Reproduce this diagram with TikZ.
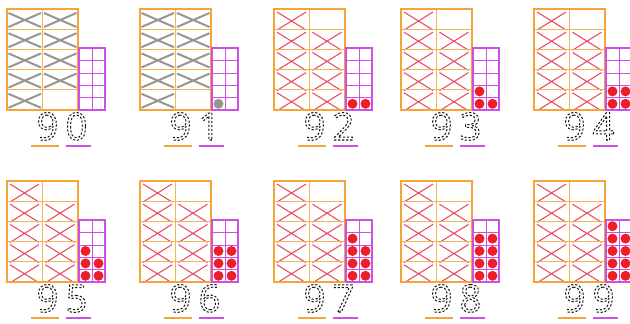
\documentclass[tikz,border=0pt]{standalone}
\usepackage{fontspec}
\newfontfamily\digitfont{Open Sans}
\definecolor{orng}{RGB}{245,165,55}
\definecolor{mag}{RGB}{205,80,230}
\definecolor{xred}{RGB}{232,80,100}
\definecolor{xgrey}{RGB}{150,150,150}
\definecolor{dred}{RGB}{238,30,40}
\definecolor{dgrey}{RGB}{150,150,150}
\definecolor{ink}{RGB}{20,20,20}
\newcommand\strokeon{\special{pdf:literal direct 1 Tr 1 w [2.2 1.8] 0 d}}
\newcommand\strokeoff{\special{pdf:literal direct 0 Tr [] 0 d}}
\tikzset{
  tensbox/.style={draw=orng, line width=1.8pt},
  tensgrid/.style={draw=orng!85, line width=0.7pt},
  onesbox/.style={draw=mag, line width=1.4pt},
  onesgrid/.style={draw=mag, line width=0.6pt},
  crossred/.style={draw=xred, line width=1.1pt, /utils/exec={\def\cxa{3}\def\cxb{32}\def\cya{3}\def\cyb{21}}},
  crossgrey/.style={draw=xgrey, line width=2pt, /utils/exec={\def\cxa{1.5}\def\cxb{34}\def\cya{4}\def\cyb{18}}},
  dotred/.style={fill=dred},
  dotgrey/.style={fill=dgrey},
  tracedigit/.style={font=\digitfont\fontsize{38}{38}\selectfont, inner sep=0pt, anchor=base, text=ink},
  ulorange/.style={draw=orng, line width=2pt},
  ulmag/.style={draw=mag, line width=2pt},
}
% #1 x, #2 y, #3 cross style, #4 empty row, #5 units digit, #6 dots, #7 dot style
\newcommand\placevalue[7]{%
  \begin{scope}[shift={(#1,#2)}]
    \foreach \r in {0,...,4}{
      \foreach \c in {0,1}{
        \pgfmathtruncatemacro\skipcell{(\c==1)&&(\r==#4)}
        \ifnum\skipcell=0
          \draw[#3] ({\c*35.5+\cxa},{\r*20.2+\cya}) -- ({\c*35.5+\cxb},{\r*20.2+\cyb})
                    ({\c*35.5+\cxa},{\r*20.2+\cyb}) -- ({\c*35.5+\cxb},{\r*20.2+\cya});
        \fi
      }
    }
    \foreach \k in {1,2,3,4} \draw[tensgrid] (0,{\k*20.2}) -- (71,{\k*20.2});
    \draw[tensgrid] (35.5,0) -- (35.5,101);
    \draw[tensbox] (0,0) rectangle (71,101);
    \foreach \k in {1,2,3,4} \draw[onesgrid] (72,{39+\k*12.4}) -- (98,{39+\k*12.4});
    \draw[onesgrid] (85,39) -- (85,101);
    \ifnum#6>0
      \foreach \d in {1,...,#6}{
        \pgfmathtruncatemacro\dr{4-floor((\d-1)/2)}
        \pgfmathtruncatemacro\dc{mod(\d-1,2)}
        \fill[#7] ({78.5+13*\dc},{45.2+12.4*\dr}) circle (5);
      }
    \fi
    \draw[onesbox] (72,39) rectangle (98,101);
    \node[tracedigit] (t9#5) at (40.5,131) {\strokeon 9\strokeoff};
    \node[tracedigit] (u9#5) at (69.5,131) {\strokeon #5\strokeoff};
    \draw[ulorange] (24,137) -- (52,137);
    \draw[ulmag] (59,137) -- (84,137);
  \end{scope}
}
\begin{document}
\begin{tikzpicture}[x=1pt,y=-1pt]
  \useasboundingbox (0,0) rectangle (630,324);
  \placevalue{7}{9}{crossgrey}{4}{0}{0}{dotred}
  \placevalue{140}{9}{crossgrey}{4}{1}{1}{dotgrey}
  \placevalue{274}{9}{crossred}{0}{2}{2}{dotred}
  \placevalue{401}{9}{crossred}{0}{3}{3}{dotred}
  \placevalue{534}{9}{crossred}{0}{4}{4}{dotred}
  \placevalue{7}{181}{crossred}{0}{5}{5}{dotred}
  \placevalue{140}{181}{crossred}{0}{6}{6}{dotred}
  \placevalue{274}{181}{crossred}{0}{7}{7}{dotred}
  \placevalue{401}{181}{crossred}{0}{8}{8}{dotred}
  \placevalue{534}{181}{crossred}{0}{9}{9}{dotred}
\end{tikzpicture}
\end{document}
